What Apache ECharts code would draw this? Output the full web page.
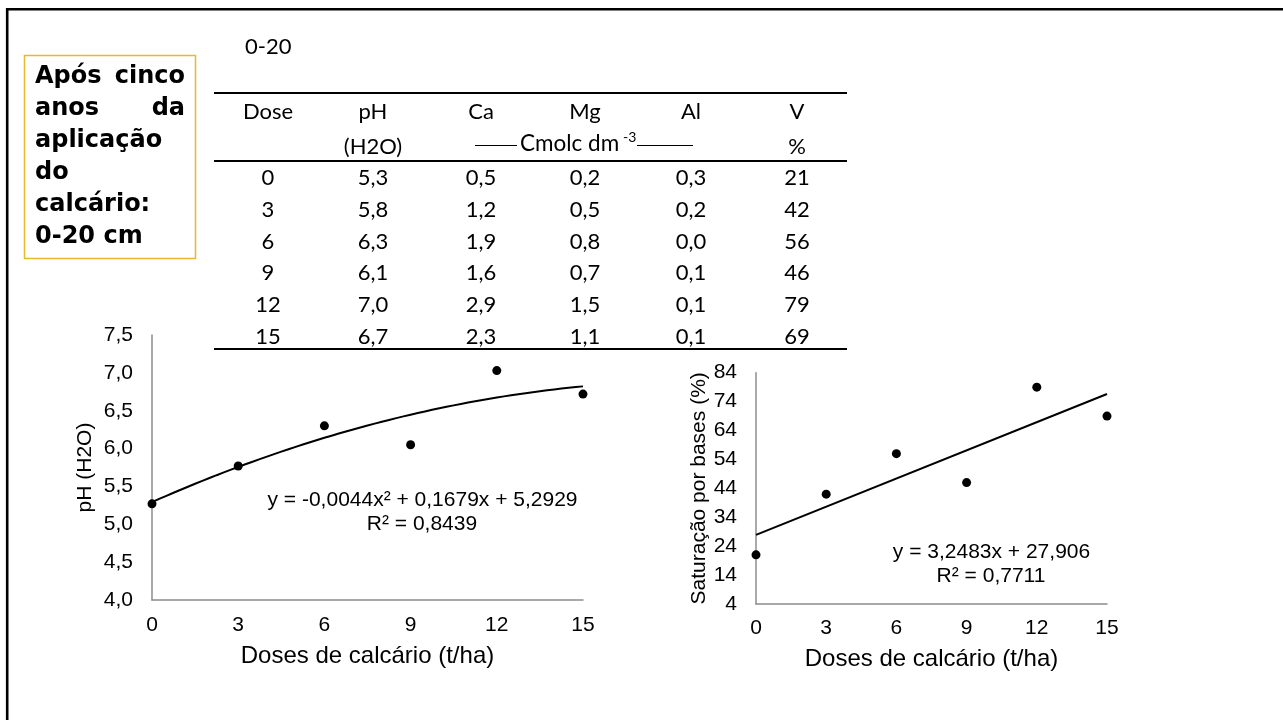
<!DOCTYPE html>
<html>
<head>
<meta charset="utf-8">
<script src="https://cdn.jsdelivr.net/npm/echarts@6/dist/echarts.min.js"></script>
<style>
  html, body { margin: 0; padding: 0; background: #ffffff; }
  #c { width: 1283px; height: 720px; }
</style>
</head>
<body>
<div id="c"></div>
<script>
// Soil attributes, 0-20 cm layer, five years after liming
const doses = [0, 3, 6, 9, 12, 15];
const phH2O = [5.3, 5.8, 6.3, 6.1, 7.0, 6.7];
const ca = [0.5, 1.2, 1.9, 1.6, 2.9, 2.3];
const mg = [0.2, 0.5, 0.8, 0.7, 1.5, 1.1];
const al = [0.3, 0.2, 0.0, 0.1, 0.1, 0.1];
const vSat = [21, 42, 56, 46, 79, 69];

// pH points as plotted in the scatter chart
const phPoints = [5.27, 5.77, 6.30, 6.05, 7.03, 6.72];

// Fitted trendlines (coefficients as printed on the charts)
const phFit = [-0.0044, 0.1679, 5.2929];   // y = a x² + b x + c
const vFit = [3.2483, 27.906];             // y = a x + b
const phEq = ['y = -0,0044x² + 0,1679x + 5,2929', 'R² = 0,8439'];
const vEq = ['y = 3,2483x + 27,906', 'R² = 0,7711'];

const phTicks = { min: 4, max: 7.5, interval: 0.5 };
const vTicks = { min: 4, max: 84, interval: 10 };

const headers = ['Dose', 'pH', 'Ca', 'Mg', 'Al', 'V'];
const boxLines = [['Após', 'cinco'], ['anos', 'da'], ['aplicação'], ['do'], ['calcário:'], ['0-20 cm']];

const comma = (v, d) => v.toFixed(d).replace('.', ',');

const tableFont = '22px Lato';
const colX = [268, 373, 481, 585, 691, 797];
const rowY0 = 178.3, rowStep = 31.7;

const g = [];
// slide frame
g.push({ type: 'rect', shape: { x: 7.2, y: 9.2, width: 1400, height: 800 },
  style: { fill: 'none', stroke: '#000', lineWidth: 2.6 }, silent: true });
// caption box
g.push({ type: 'rect', shape: { x: 24.5, y: 55.5, width: 171, height: 203 },
  style: { fill: 'none', stroke: '#E6B92E', lineWidth: 1.5 } });
const boxFont = 'bold 24px "DejaVu Sans"';
boxLines.forEach((words, i) => {
  const y = 76.5 + i * 32;
  g.push({ type: 'text', style: { text: words[0], x: 35, y, font: boxFont, fill: '#000',
    align: 'left', verticalAlign: 'middle', textAlign: 'left', textVerticalAlign: 'middle' } });
  if (words[1]) {
    g.push({ type: 'text', style: { text: words[1], x: 185, y, font: boxFont, fill: '#000',
      align: 'right', verticalAlign: 'middle', textAlign: 'right', textVerticalAlign: 'middle' } });
  }
});

function txt(text, x, y, font, align) {
  g.push({ type: 'text', style: { text, x, y, font: font || tableFont, fill: '#000',
    align: align || 'center', verticalAlign: 'middle', textAlign: align || 'center', textVerticalAlign: 'middle' } });
}
function rule(x1, y1, x2, y2, w) {
  g.push({ type: 'line', shape: { x1, y1, x2, y2 }, style: { stroke: '#000', lineWidth: w } });
}

// table
txt('0-20', 245, 47, tableFont, 'left');
rule(214, 93, 847, 93, 2);
headers.forEach((h, i) => txt(h, colX[i], 112));
txt('(H2O)', colX[1], 147);
rule(475, 145.5, 517, 145.5, 1);
txt('Cmolc dm', 520, 144, '22.5px Lato', 'left');
txt('-3', 623, 137, '14px Lato', 'left');
rule(637, 145.5, 693, 145.5, 1);
txt('%', colX[5], 147);
rule(214, 161, 847, 161, 2);
doses.forEach((d, i) => {
  const y = rowY0 + i * rowStep;
  txt(String(d), colX[0], y);
  txt(comma(phH2O[i], 1), colX[1], y);
  txt(comma(ca[i], 1), colX[2], y);
  txt(comma(mg[i], 1), colX[3], y);
  txt(comma(al[i], 1), colX[4], y);
  txt(String(vSat[i]), colX[5], y);
});
rule(214, 349, 847, 349, 2);

// trendline equations
const eqFont = '21px "Liberation Sans"';
txt(phEq[0], 422.5, 500, eqFont);
txt(phEq[1], 422, 524, eqFont);
txt(vEq[0], 991.5, 552, eqFont);
txt(vEq[1], 991, 576, eqFont);

// trendline samples
const phTrend = [];
for (let x = 0; x <= 15.0001; x += 0.25) {
  phTrend.push([x, phFit[0] * x * x + phFit[1] * x + phFit[2]]);
}
const vTrend = [[0, vFit[1]], [15, vFit[0] * 15 + vFit[1]]];

const axisGray = '#8c8c8c';
const tickFont = { fontFamily: 'Liberation Sans', fontSize: 21, color: '#000' };

function xAx(gridIndex, margin, gap) {
  return {
    gridIndex, type: 'value', min: 0, max: 15, interval: 3,
    axisLine: { show: true, lineStyle: { color: axisGray, width: 1.5 } },
    axisTick: { show: false }, splitLine: { show: false },
    axisLabel: Object.assign({ margin }, tickFont),
    name: 'Doses de calcário (t/ha)', nameLocation: 'middle', nameGap: gap,
    nameTextStyle: { fontFamily: 'Liberation Sans', fontSize: 24, color: '#000' }
  };
}
function yAx(gridIndex, ticks, fmt, name, gap) {
  return {
    gridIndex, type: 'value', min: ticks.min, max: ticks.max, interval: ticks.interval,
    axisLine: { show: true, lineStyle: { color: axisGray, width: 1.5 } },
    axisTick: { show: false }, splitLine: { show: false },
    axisLabel: Object.assign({ margin: 19, formatter: fmt }, tickFont),
    name, nameLocation: 'middle', nameGap: gap, nameRotate: 90,
    nameTextStyle: { fontFamily: 'Liberation Sans', fontSize: 21, color: '#000' }
  };
}

const chart = echarts.init(document.getElementById('c'));
chart.setOption({
  backgroundColor: '#ffffff',
  animation: false,
  grid: [
    { left: 152, top: 335, width: 431, height: 265 },
    { left: 756, top: 372.7, width: 351, height: 231.3 }
  ],
  xAxis: [xAx(0, 14.5, 44), xAx(1, 13.5, 43)],
  yAxis: [
    yAx(0, phTicks, v => comma(v, 1), 'pH (H2O)', 56),
    yAx(1, vTicks, v => String(v), 'Saturação por bases (%)', 45)
  ],
  series: [
    { type: 'line', xAxisIndex: 0, yAxisIndex: 0, data: phTrend, showSymbol: false, silent: true,
      lineStyle: { color: '#000', width: 2 }, z: 2 },
    { type: 'scatter', xAxisIndex: 0, yAxisIndex: 0, symbolSize: 9,
      itemStyle: { color: '#000', opacity: 1 }, data: doses.map((d, i) => [d, phPoints[i]]), z: 3 },
    { type: 'line', xAxisIndex: 1, yAxisIndex: 1, data: vTrend, showSymbol: false, silent: true,
      lineStyle: { color: '#000', width: 2 }, z: 2 },
    { type: 'scatter', xAxisIndex: 1, yAxisIndex: 1, symbolSize: 9,
      itemStyle: { color: '#000', opacity: 1 }, data: doses.map((d, i) => [d, vSat[i]]), z: 3 }
  ],
  graphic: g
});
</script>
</body>
</html>
